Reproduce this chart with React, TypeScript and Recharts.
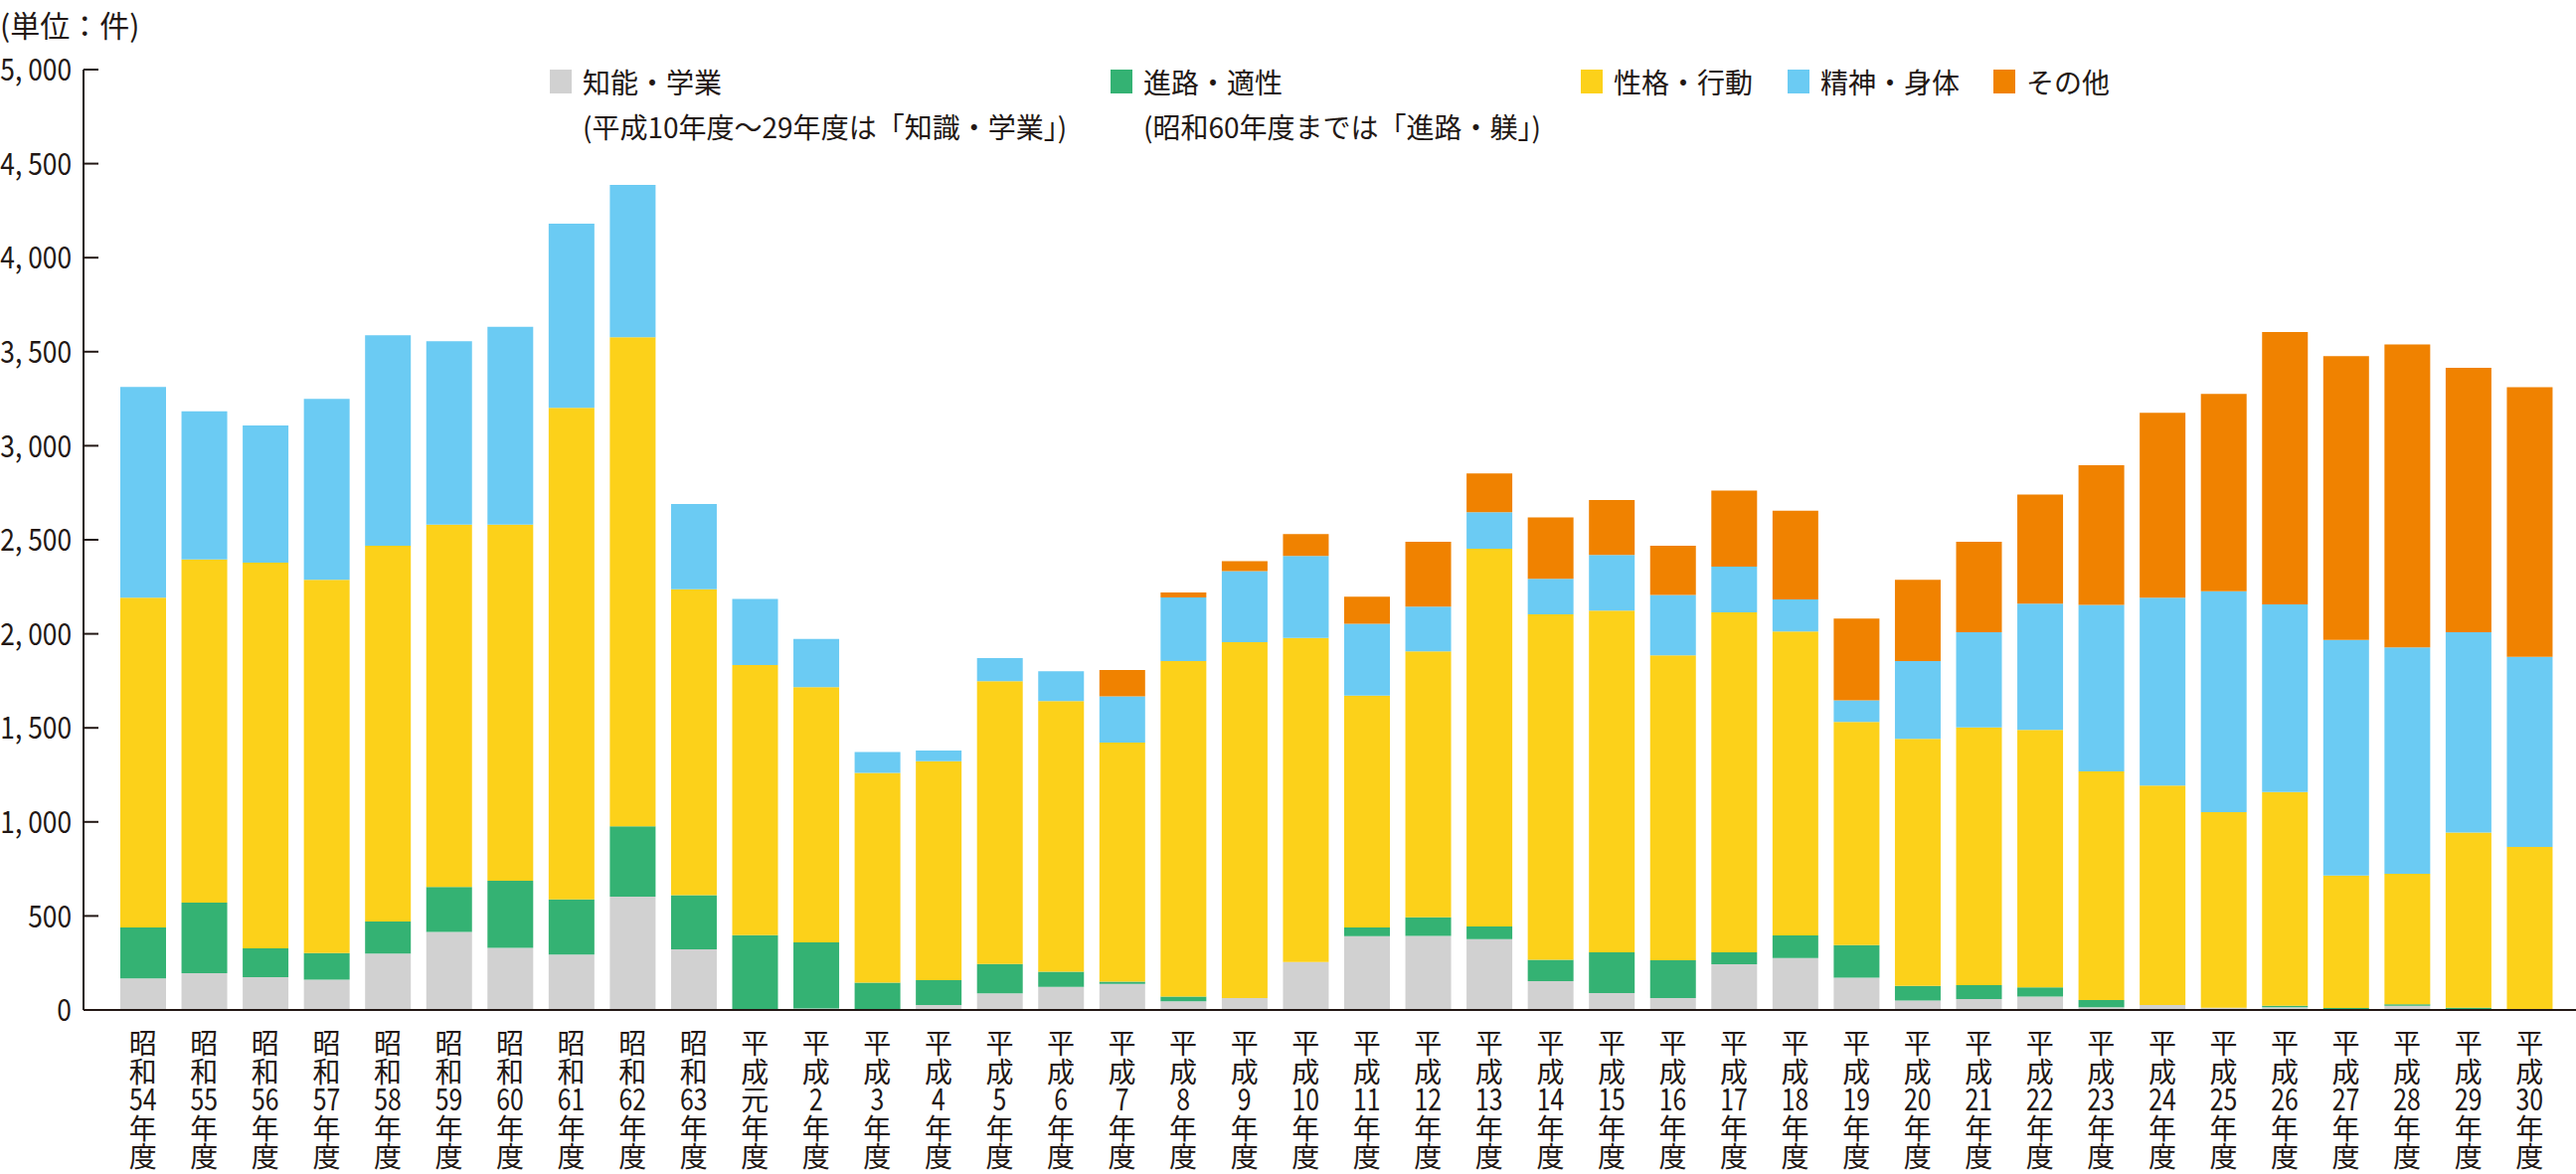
import React from "react";
import { BarChart, Bar, XAxis, YAxis, Legend } from "recharts";

// ---- Data (件) ----
const categories = [
  "昭和54年度", "昭和55年度", "昭和56年度", "昭和57年度", "昭和58年度",
  "昭和59年度", "昭和60年度", "昭和61年度", "昭和62年度", "昭和63年度",
  "平成元年度", "平成2年度", "平成3年度", "平成4年度", "平成5年度",
  "平成6年度", "平成7年度", "平成8年度", "平成9年度", "平成10年度",
  "平成11年度", "平成12年度", "平成13年度", "平成14年度", "平成15年度",
  "平成16年度", "平成17年度", "平成18年度", "平成19年度", "平成20年度",
  "平成21年度", "平成22年度", "平成23年度", "平成24年度", "平成25年度",
  "平成26年度", "平成27年度", "平成28年度", "平成29年度", "平成30年度",
];

// 知能・学業
const chinoGakugyo = [
  168, 196, 175, 161, 300, 415, 330, 295, 602, 323,
  0, 8, 0, 26, 88, 123, 139, 46, 63, 255,
  392, 394, 377, 153, 90, 64, 243, 276, 172, 50,
  58, 72, 14, 26, 12, 14, 3, 23, 0, 0,
];
// 進路・適性
const shinroTekisei = [
  271, 375, 153, 141, 170, 239, 357, 293, 375, 288,
  398, 351, 146, 133, 157, 80, 11, 26, 0, 0,
  47, 99, 67, 114, 217, 200, 64, 120, 173, 78,
  74, 48, 39, 0, 0, 9, 8, 7, 12, 0,
];
// 性格・行動
const seikakuKodo = [
  1753, 1824, 2050, 1985, 1998, 1927, 1894, 2614, 2600, 1626,
  1436, 1357, 1115, 1164, 1503, 1439, 1272, 1783, 1893, 1723,
  1232, 1414, 2008, 1836, 1817, 1621, 1807, 1617, 1186, 1314,
  1371, 1369, 1215, 1167, 1040, 1136, 704, 694, 931, 867,
];
// 精神・身体
const seishinShintai = [
  1121, 788, 730, 962, 1119, 975, 1051, 979, 810, 453,
  352, 257, 110, 57, 123, 159, 246, 338, 377, 436,
  382, 238, 195, 190, 295, 321, 243, 170, 116, 413,
  505, 672, 886, 999, 1174, 997, 1252, 1204, 1065, 1010,
];
// その他
const sonota = [
  0, 0, 0, 0, 0, 0, 0, 0, 0, 0,
  0, 0, 0, 0, 0, 0, 140, 27, 54, 117,
  144, 344, 206, 326, 292, 262, 404, 472, 434, 432,
  482, 580, 742, 983, 1049, 1449, 1509, 1611, 1407, 1434,
];

const yTicks = [0, 500, 1000, 1500, 2000, 2500, 3000, 3500, 4000, 4500, 5000];
const yTickLabels = ["0", "500", "1, 000", "1, 500", "2, 000", "2, 500", "3, 000", "3, 500", "4, 000", "4, 500", "5, 000"];

const seriesKeys = ["chino", "shinro", "seikaku", "seishin", "sonota"];
const seriesNames = ["知能・学業", "進路・適性", "性格・行動", "精神・身体", "その他"];
const seriesNotes = ["(平成10年度～29年度は「知識・学業」)", "(昭和60年度までは「進路・躾」)", "", "", ""];
const seriesColors = ["#D1D1D1", "#34B273", "#FCD11A", "#6BCBF3", "#F08200"];

const unitLabel = "(単位：件)";

const data = categories.map((c, i) => ({
  name: c,
  chino: chinoGakugyo[i],
  shinro: shinroTekisei[i],
  seikaku: seikakuKodo[i],
  seishin: seishinShintai[i],
  sonota: sonota[i],
}));

const FONT = "'Noto Sans CJK JP', 'Noto Sans', sans-serif";
const INK = "#231815";

const W = 2591;
const H = 1181;

const XTick = (props: any) => {
  const { x, y, payload } = props;
  const label: string = payload.value;
  const era = label.slice(0, 2);
  const num = label.slice(2, label.length - 2);
  const lines = [era[0], era[1], num, "年", "度"];
  const baseline0 = y + 44;
  return (
    <g>
      {lines.map((l, i) => {
        const by = baseline0 + i * 28.6;
        const isNum = i === 2 && /[0-9]/.test(l);
        if (isNum) {
          return (
            <text
              key={i}
              transform={`translate(${x},${by}) scale(0.8,1)`}
              textAnchor="middle"
              fontSize={31}
              fontFamily={FONT}
              fill={INK}
            >
              {l}
            </text>
          );
        }
        return (
          <text key={i} x={x} y={by} textAnchor="middle" fontSize={28} fontFamily={FONT} fill={INK}>
            {l}
          </text>
        );
      })}
    </g>
  );
};

const YTick = (props: any) => {
  const { x, y, payload } = props;
  const idx = yTicks.indexOf(payload.value);
  return (
    <g>
      <line x1={x} x2={x + 15} y1={y} y2={y} stroke={INK} strokeWidth={2} />
      <text
        transform={`translate(${x - 12},${y}) scale(0.85,1)`}
        dy="0.36em"
        textAnchor="end"
        fontSize={31}
        fontFamily={FONT}
        fill={INK}
      >
        {idx >= 0 ? yTickLabels[idx] : String(payload.value)}
      </text>
    </g>
  );
};

const legendSquareX = [553, 1117, 1590, 1798, 2005];

const renderLegend = () => (
  <div style={{ position: "relative", width: W, height: 160, fontFamily: FONT, color: INK }}>
    {seriesNames.map((n, i) => (
      <React.Fragment key={n}>
        <div
          style={{
            position: "absolute",
            left: legendSquareX[i],
            top: 70,
            width: 22,
            height: 24,
            background: seriesColors[i],
          }}
        />
        <div
          style={{
            position: "absolute",
            left: legendSquareX[i] + 33,
            top: 65,
            fontSize: 28,
            lineHeight: "34px",
            whiteSpace: "nowrap",
          }}
        >
          {n}
        </div>
        {seriesNotes[i] ? (
          <div
            style={{
              position: "absolute",
              left: legendSquareX[i] + 33,
              top: 110,
              fontSize: 28,
              lineHeight: "34px",
              whiteSpace: "nowrap",
            }}
          >
            {seriesNotes[i]}
          </div>
        ) : null}
      </React.Fragment>
    ))}
  </div>
);

export default function App() {
  return (
    <div style={{ position: "relative", width: W, height: H, background: "#fff" }}>
      <style>{"body{margin:0;background:#fff;}"}</style>
      <div
        style={{
          position: "absolute",
          left: 0,
          top: 2,
          fontFamily: FONT,
          fontSize: 30,
          lineHeight: "44px",
          color: INK,
          whiteSpace: "nowrap",
          zIndex: 2,
        }}
      >
        {unitLabel}
      </div>
      <BarChart
        width={W}
        height={H}
        data={data}
        margin={{ top: 70, right: 0, bottom: 0, left: 0 }}
        barSize={46}
      >
        <XAxis
          dataKey="name"
          height={165}
          interval={0}
          tickLine={false}
          tickSize={0}
          tickMargin={0}
          tick={<XTick />}
          axisLine={{ stroke: INK, strokeWidth: 2 }}
          padding={{ left: 29, right: 16 }}
        />
        <YAxis
          type="number"
          domain={[0, 5000]}
          ticks={yTicks}
          width={84}
          tickLine={false}
          tickSize={0}
          tickMargin={0}
          tick={<YTick />}
          axisLine={{ stroke: INK, strokeWidth: 2 }}
          interval={0}
        />
        <Legend
          layout="horizontal"
          verticalAlign="middle"
          align="center"
          content={renderLegend}
          wrapperStyle={{ position: "absolute", top: 0, left: 0, width: W, height: 160 }}
        />
        {seriesKeys.map((k, i) => (
          <Bar
            key={k}
            dataKey={k}
            name={seriesNames[i]}
            stackId="a"
            fill={seriesColors[i]}
            isAnimationActive={false}
          />
        ))}
      </BarChart>
    </div>
  );
}
